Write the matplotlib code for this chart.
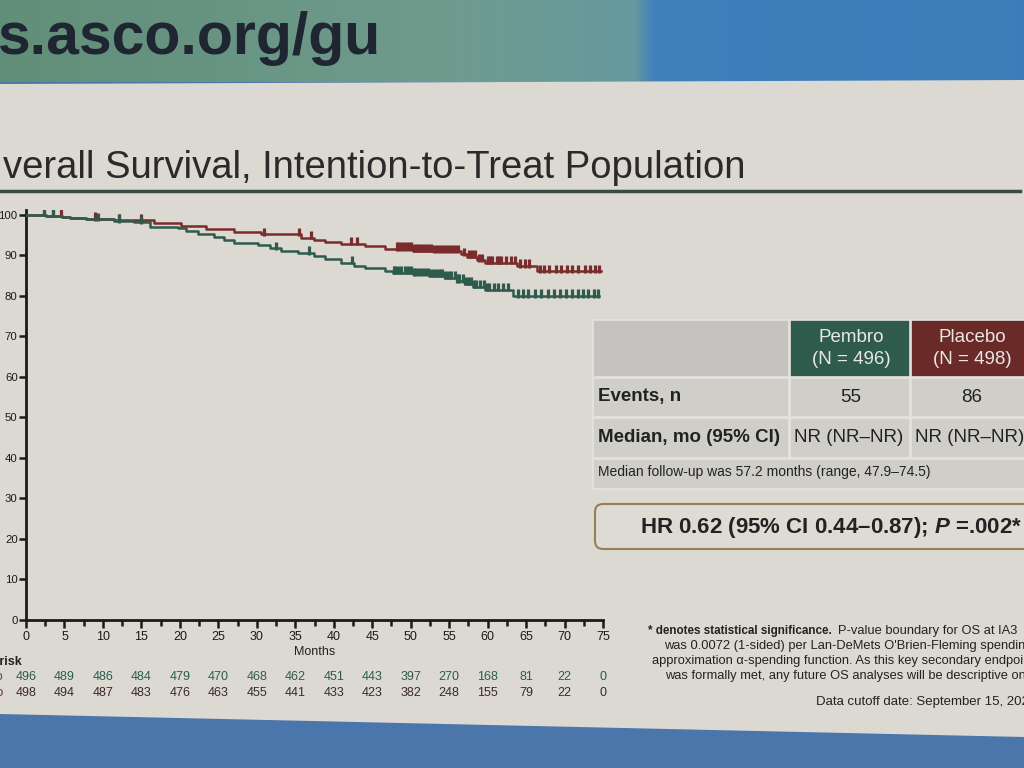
import numpy as np
import matplotlib.pyplot as plt
from matplotlib import font_manager
from matplotlib.patches import Polygon, Rectangle, FancyBboxPatch
from matplotlib.transforms import blended_transform_factory

plt.rcParams['font.family'] = ['Liberation Sans', 'DejaVu Sans']
plt.rcParams['mathtext.fontset'] = 'custom'
plt.rcParams['mathtext.it'] = 'Liberation Sans:italic:bold'

# the slide uses a condensed face for the plot; use it when it is installed
installed = {f.name for f in font_manager.fontManager.ttflist}
has_narrow = 'Liberation Sans Narrow' in installed
narrow = ['Liberation Sans Narrow', 'Liberation Sans', 'DejaVu Sans']
nf = 1.0 / 0.82 if has_narrow else 1.0

# Kaplan-Meier steps (months, % alive)
pembro_t = [0, 2.6, 4.7, 5.7, 7.8, 11.4, 16.6, 20.2, 23.4, 27.0, 30.6, 35.8, 37.4,
            38.9, 41.0, 44.1, 46.7, 50.3, 52.9, 56.5, 57.3, 58.6, 59.6, 63.8, 66.4]
pembro_s = [100, 99.8, 99.5, 99.2, 99.0, 98.7, 97.9, 97.2, 96.5, 95.8, 95.2, 94.4, 93.9,
            93.4, 92.9, 92.2, 91.6, 91.2, 91.0, 90.3, 89.7, 88.8, 88.2, 87.4, 86.1]
pembro_end = 74.8
pembro_cens = [2.4, 3.5, 4.5, 9.0, 12.1, 15.0, 31.0, 35.5, 37.0, 42.3, 43.0,
               48.2, 48.5, 48.9, 49.3, 49.6, 50.0, 50.4, 50.8, 51.1, 51.5, 51.9, 52.3,
               52.7, 53.0, 53.4, 53.8, 54.2, 54.6, 55.0, 55.4, 55.8, 56.2, 56.9, 57.6,
               58.0, 58.4, 58.9, 59.3, 60.0, 60.3, 60.6, 61.2, 61.5, 61.8, 62.4, 63.0,
               63.5, 64.2, 64.8, 65.4, 66.8, 67.3, 68.0, 68.9, 69.5, 70.3, 71.0, 71.8,
               72.6, 73.3, 73.9, 74.5]

placebo_t = [0, 2.6, 4.7, 5.7, 7.8, 11.4, 14.0, 16.1, 19.7, 20.8, 22.3, 24.4, 25.7, 27.0,
             30.1, 31.7, 33.2, 35.3, 37.4, 38.9, 41.0, 42.6, 44.1, 46.7, 47.7, 50.3, 52.4,
             54.5, 56.0, 57.1, 58.1, 59.7, 63.3]
placebo_s = [100, 99.8, 99.5, 99.2, 98.9, 98.5, 98.2, 97.1, 96.7, 96.0, 95.3, 94.5, 93.7,
             93.1, 92.5, 91.8, 91.2, 90.6, 89.8, 89.0, 88.2, 87.5, 86.9, 86.2, 85.7, 85.4,
             85.0, 84.5, 83.7, 83.0, 82.3, 81.5, 80.0]
placebo_end = 74.5
placebo_cens = [2.4, 3.5, 9.3, 12.1, 15.0, 32.5, 36.8, 42.4, 47.8,
                48.0, 48.4, 48.8, 49.2, 49.6, 50.0, 50.4, 50.7, 51.1, 51.5, 51.9, 52.2,
                52.6, 53.0, 53.4, 53.8, 54.1, 54.5, 54.9, 55.3, 55.7, 56.0, 56.3, 56.8,
                57.1, 57.4, 57.9, 58.2, 58.5, 59.0, 59.5, 59.9, 60.2, 60.8, 61.4, 62.0,
                62.6, 63.9, 64.6, 65.3, 66.1, 67.0, 67.8, 68.6, 69.4, 70.2, 71.0, 71.7,
                72.4, 73.1, 73.8, 74.3]

risk_times = [0, 5, 10, 15, 20, 25, 30, 35, 40, 45, 50, 55, 60, 65, 70, 75]
pembro_risk = [496, 489, 486, 484, 479, 470, 468, 462, 451, 443, 397, 270, 168, 81, 22, 0]
placebo_risk = [498, 494, 487, 483, 476, 463, 455, 441, 433, 423, 382, 248, 155, 79, 22, 0]

upper_color = '#7a2b2b'
lower_color = '#2f5b4d'
text_dark = '#222222'

W, H = 1024, 768
fig = plt.figure(figsize=(W / 100, H / 100), dpi=100)

# background (photo of slide) in pixel coordinates
bg = fig.add_axes([0, 0, 1, 1], zorder=0)
bg.axis('off')
bg.add_patch(Rectangle((0, 0), W, H, color='#4a76ab'))
grad = np.linspace(0, 1, 256)
r = np.interp(grad, [0, 0.45, 0.62, 0.64, 1], [0.38, 0.44, 0.40, 0.25, 0.24])
g = np.interp(grad, [0, 0.45, 0.62, 0.64, 1], [0.56, 0.61, 0.60, 0.50, 0.49])
b = np.interp(grad, [0, 0.45, 0.62, 0.64, 1], [0.47, 0.56, 0.62, 0.74, 0.73])
bg.imshow(np.dstack([r, g, b]), extent=[0, W, 82, 0], aspect='auto', zorder=1)
bg.set_xlim(0, W)
bg.set_ylim(H, 0)
bg.add_patch(Polygon([(0, 84), (W, 80), (W, 737), (0, 714)], closed=True,
                     facecolor='#dbd9d2', edgecolor='none', zorder=2))
bg.text(-2, 38, 's.asco.org/gu', fontsize=42.5, fontweight='bold', color='#1f2632',
        va='center', ha='left', zorder=3)
bg.text(3, 168, 'verall Survival, Intention-to-Treat Population', fontsize=27.5 * nf,
        family=narrow, color='#2a2a2a', va='center', ha='left', zorder=3)
bg.plot([0, 1020], [191, 191], color='#3c4a45', lw=2.5, zorder=3)

# right-hand table
cell = '#cfcec9'
sep = '#e4e3de'
tfs = 13.5
bg.add_patch(Rectangle((593, 320), 196, 57, facecolor='#c4c3bf', edgecolor=sep, lw=1.2, zorder=3))
bg.add_patch(Rectangle((790, 320), 120, 57, facecolor='#2f5b4d', edgecolor=sep, lw=1.2, zorder=3))
bg.add_patch(Rectangle((911, 320), 130, 57, facecolor='#6a2a28', edgecolor=sep, lw=1.2, zorder=3))
for y0, h in [(378, 39), (418, 40)]:
    for x0, w in [(593, 196), (790, 120), (911, 130)]:
        bg.add_patch(Rectangle((x0, y0), w, h, facecolor=cell, edgecolor=sep, lw=1.2, zorder=3))
bg.add_patch(Rectangle((593, 459), 450, 30, facecolor=cell, edgecolor=sep, lw=1.2, zorder=3))
bg.text(851, 337, 'Pembro', fontsize=tfs, color='#e9e8e2', ha='center', va='center', zorder=4)
bg.text(851, 360, '(N = 496)', fontsize=tfs, color='#e9e8e2', ha='center', va='center', zorder=4)
bg.text(972, 337, 'Placebo', fontsize=tfs, color='#e9e8e2', ha='center', va='center', zorder=4)
bg.text(972, 360, '(N = 498)', fontsize=tfs, color='#e9e8e2', ha='center', va='center', zorder=4)
bg.text(598, 397, 'Events, n', fontsize=tfs, fontweight='bold', color=text_dark, va='center', zorder=4)
bg.text(851, 397, '55', fontsize=tfs, color=text_dark, ha='center', va='center', zorder=4)
bg.text(972, 397, '86', fontsize=tfs, color=text_dark, ha='center', va='center', zorder=4)
bg.text(598, 437, 'Median, mo (95% CI)', fontsize=tfs, fontweight='bold', color=text_dark,
        va='center', zorder=4)
bg.text(849, 437, 'NR (NR–NR)', fontsize=tfs, color=text_dark, ha='center', va='center', zorder=4)
bg.text(970, 437, 'NR (NR–NR)', fontsize=tfs, color=text_dark, ha='center', va='center', zorder=4)
bg.text(598, 472, 'Median follow-up was 57.2 months (range, 47.9–74.5)', fontsize=10,
        color=text_dark, va='center', zorder=4)

bg.add_patch(FancyBboxPatch((595, 504), 460, 45, boxstyle='round,pad=0,rounding_size=8',
                            facecolor='#dddbd4', edgecolor='#9b7e52', lw=1.5, zorder=3))
bg.text(831, 527, r'HR 0.62 (95% CI 0.44–0.87); $\mathit{P}$ =.002*', fontsize=16,
        fontweight='bold', color=text_dark, ha='center', va='center', zorder=4)

foot = 8.4 * nf
foot_reg = 9.3 * nf
bg.text(648, 631, '* denotes statistical significance.', fontsize=foot, fontweight='bold',
        family=narrow, color=text_dark, va='center', zorder=4)
bg.text(838, 631, 'P-value boundary for OS at IA3', fontsize=foot_reg, family=narrow,
        color=text_dark, va='center', zorder=4)
bg.text(664, 646, "was 0.0072 (1-sided) per Lan-DeMets O'Brien-Fleming spending",
        fontsize=foot_reg, family=narrow, color=text_dark, va='center', zorder=4)
bg.text(652, 661, 'approximation α-spending function. As this key secondary endpoint',
        fontsize=foot_reg, family=narrow, color=text_dark, va='center', zorder=4)
bg.text(665, 676, 'was formally met, any future OS analyses will be descriptive only.',
        fontsize=foot_reg, family=narrow, color=text_dark, va='center', zorder=4)
bg.text(816, 702, 'Data cutoff date: September 15, 2023', fontsize=9.5 * nf, family=narrow,
        color=text_dark, va='center', zorder=4)


def fy(py):
    return 1 - py / H


# Kaplan-Meier axes
ax = fig.add_axes([26 / W, fy(620), 577 / W, 410 / H], zorder=5)
ax.patch.set_alpha(0)
ax.set_xlim(0, 75)
ax.set_ylim(0, 101.2)

for t, s, t_end, cens, col in [(pembro_t, pembro_s, pembro_end, pembro_cens, upper_color),
                               (placebo_t, placebo_s, placebo_end, placebo_cens, lower_color)]:
    tt = np.append(t, t_end)
    ss = np.append(s, s[-1])
    ax.step(tt, ss, where='post', color=col, lw=1.8, zorder=3)
    idx = np.searchsorted(t, cens, side='right') - 1
    cs = np.array(s)[idx]
    ax.vlines(cens, cs - 0.4, cs + 1.6, color=col, lw=2.3, zorder=3)

for side in ['top', 'right']:
    ax.spines[side].set_visible(False)
for side in ['left', 'bottom']:
    ax.spines[side].set_linewidth(2)
    ax.spines[side].set_color('#1a1a1a')
tick_fs = 9 * nf
ax.set_yticks(np.arange(0, 101, 10))
ax.set_xticks(np.arange(0, 76, 5))
ax.set_xticks(np.arange(2.5, 75, 5), minor=True)
ax.tick_params(axis='x', which='major', direction='out', length=6, width=1.8,
               labelsize=tick_fs, colors='#1a1a1a', pad=2)
ax.tick_params(axis='y', which='major', direction='out', length=5, width=1.8,
               labelsize=8.2 * nf, colors='#1a1a1a', pad=1)
ax.tick_params(axis='x', which='minor', direction='out', length=4, width=1.8, colors='#1a1a1a')
for lab in ax.get_xticklabels() + ax.get_yticklabels():
    lab.set_family(narrow)
ax.set_xlabel('Months', fontsize=tick_fs, family=narrow, labelpad=2, color=text_dark)

# numbers at risk
tr = blended_transform_factory(ax.transData, fig.transFigure)
fig.text(22 / W, fy(662), 'No. at risk', fontsize=tick_fs, family=narrow, fontweight='bold',
         ha='right', va='center', color=text_dark)
fig.text(3 / W, fy(677), 'Pembro', fontsize=tick_fs, family=narrow, ha='right', va='center',
         color=lower_color)
fig.text(3 / W, fy(693), 'Placebo', fontsize=tick_fs, family=narrow, ha='right', va='center',
         color=upper_color)
for x, a, b in zip(risk_times, pembro_risk, placebo_risk):
    ax.text(x, fy(677), str(a), transform=tr, fontsize=tick_fs, family=narrow, ha='center',
            va='center', color=lower_color, clip_on=False)
    ax.text(x, fy(693), str(b), transform=tr, fontsize=tick_fs, family=narrow, ha='center',
            va='center', color='#3a2a2a', clip_on=False)

fig.savefig('out.png', dpi=100)
